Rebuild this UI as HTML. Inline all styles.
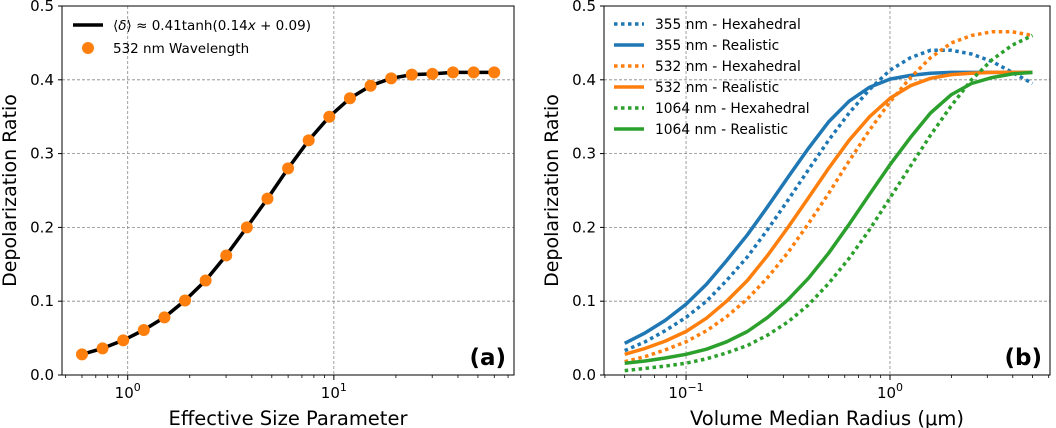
<!DOCTYPE html>
<html><head><meta charset="utf-8"><style>
body{margin:0;background:#fff;}
svg{display:block;font-family:"DejaVu Sans","Liberation Sans",sans-serif;}
</style></head><body>
<svg id="c" width="1056" height="428"></svg>
<script>
const aX=[0.6,0.755,0.951,1.197,1.507,1.897,2.388,3.006,3.784,4.764,5.997,7.550,9.505,11.97,15.07,18.97,23.88,30.06,37.84,47.64,59.97];
const aY=[0.028,0.036,0.047,0.061,0.078,0.101,0.128,0.162,0.2,0.239,0.28,0.318,0.35,0.375,0.392,0.402,0.407,0.408,0.41,0.41,0.41];
const bX=[0.05,0.063,0.079,0.1,0.126,0.158,0.2,0.251,0.316,0.398,0.5,0.63,0.794,1,1.26,1.58,2,2.51,3.16,3.98,5];
const b355Hex=[0.033,0.045,0.06,0.078,0.1,0.128,0.16,0.197,0.237,0.278,0.318,0.355,0.387,0.413,0.43,0.44,0.44,0.435,0.425,0.41,0.395];
const b355Real=[0.043,0.057,0.074,0.096,0.123,0.155,0.19,0.228,0.268,0.307,0.343,0.371,0.39,0.401,0.406,0.409,0.41,0.41,0.41,0.41,0.41];
const b532Hex=[0.018,0.025,0.034,0.045,0.06,0.079,0.103,0.132,0.166,0.205,0.246,0.29,0.332,0.37,0.403,0.43,0.45,0.46,0.465,0.465,0.46];
const b532Real=[0.028,0.036,0.046,0.059,0.077,0.1,0.128,0.162,0.2,0.24,0.28,0.318,0.35,0.375,0.392,0.402,0.407,0.409,0.41,0.41,0.41];
const b1064Hex=[0.006,0.009,0.012,0.016,0.022,0.03,0.04,0.054,0.072,0.095,0.124,0.158,0.197,0.24,0.283,0.325,0.365,0.4,0.427,0.447,0.46];
const b1064Real=[0.016,0.019,0.023,0.028,0.035,0.045,0.059,0.078,0.102,0.131,0.165,0.204,0.245,0.285,0.322,0.355,0.38,0.395,0.403,0.408,0.41];
const yTicks=["0.0","0.1","0.2","0.3","0.4","0.5"];

const svg=document.getElementById('c');const NS="http://www.w3.org/2000/svg";
function el(t,a,p){const e=document.createElementNS(NS,t);for(const k in a)e.setAttribute(k,a[k]);(p||svg).appendChild(e);return e;}
function panel(L,R,T,B,xmin,xmax,name){
  const g=el('g',{});
  
  
  const sx=v=>L+(Math.log10(v)-Math.log10(xmin))/(Math.log10(xmax)-Math.log10(xmin))*(R-L);
  const sy=v=>B-v/0.5*(B-T);
  return {g,sx,sy,L,R,T,B,xmin,xmax};
}
function axes(p,majors,majLbl,xlabel,ylabel,tag){
  const g=p.g;
  yTicks.forEach((t,i)=>{const v=parseFloat(t);const y=p.sy(v);
    if(v>0&&v<0.5){const l=el('line',{x1:p.L,x2:p.R,y1:y,y2:y,stroke:'#888','stroke-width':0.8,'stroke-dasharray':'3,2'},g);}
    el('line',{x1:p.L-4,x2:p.L,y1:y,y2:y,stroke:'#000','stroke-width':1},g);
    const tx=el('text',{x:p.L-8,y:y+5,'text-anchor':'end','font-size':15},g);tx.textContent=t;
    });
  majors.forEach((m,i)=>{const x=p.sx(m);
    const l=el('line',{x1:x,x2:x,y1:p.T,y2:p.B,stroke:'#888','stroke-width':0.8,'stroke-dasharray':'3,2'},g);
    
    el('line',{x1:x,x2:x,y1:p.B,y2:p.B+5,stroke:'#000','stroke-width':1},g);
    const t=el('text',{x:x,y:p.B+23,'text-anchor':'middle','font-size':15},g);
    t.innerHTML=majLbl[i];});
  for(let d=Math.floor(Math.log10(p.xmin));d<=Math.ceil(Math.log10(p.xmax));d++)for(let k=2;k<10;k++){const v=k*Math.pow(10,d);
    if(v>p.xmin&&v<p.xmax){const x=p.sx(v);el('line',{x1:x,x2:x,y1:p.B,y2:p.B+3,stroke:'#000','stroke-width':0.8},g);}}
  const f=el('rect',{x:p.L,y:p.T,width:p.R-p.L,height:p.B-p.T,fill:'none',stroke:'#000','stroke-width':1},g);
  
  const xl=el('text',{x:(p.L+p.R)/2,y:p.B+50,'text-anchor':'middle','font-size':19.5},g);xl.textContent=xlabel;
  
  const yl=el('text',{x:0,y:0,'text-anchor':'middle','font-size':19,transform:`translate(${p.L-46},${(p.T+p.B)/2}) rotate(-90)`},g);yl.textContent=ylabel;
  
  const tg=el('text',{x:p.R-8,y:p.B-10,'text-anchor':'end','font-size':23,'font-weight':'bold'},g);tg.textContent=tag;
  
}
function line(p,xs,ys,color,dash,name){
  const d=xs.map((x,i)=>(i?'L':'M')+p.sx(x).toFixed(1)+','+p.sy(ys[i]).toFixed(1)).join('');
  const a={d:d,fill:'none',stroke:color,'stroke-width':3.5,'stroke-linejoin':'round'};
  if(dash)a['stroke-dasharray']=dash;
  const l=el('path',a,p.g);
  
  
}
const pa=panel(62,514,6,375,0.48,74.8,'panel-a');
axes(pa,[1,10],['10<tspan dy="-7" font-size="11">0</tspan>','10<tspan dy="-7" font-size="11">1</tspan>'],'Effective Size Parameter','Depolarization Ratio','(a)');
line(pa,aX,aY,'#000',null,'fit-curve');
aX.forEach((x,i)=>{const c=el('circle',{cx:pa.sx(x),cy:pa.sy(aY[i]),r:6,fill:'#ff7f0e'},pa.g);
  });
const la=el('g',{});


el('line',{x1:73,x2:103,y1:25,y2:25,stroke:'#000','stroke-width':3.5},la);
const t1=el('text',{x:113,y:30,'font-size':13.5},la);t1.innerHTML='⟨<tspan font-style="italic">δ</tspan>⟩ ≈ 0.41tanh(0.14<tspan font-style="italic">x</tspan> + 0.09)';
el('circle',{cx:88,cy:48,r:6,fill:'#ff7f0e'},la);
const t2=el('text',{x:113,y:53,'font-size':13.5},la);t2.textContent='532 nm Wavelength';
const pb=panel(604,1050,6,375,0.0396,6.09,'panel-b');
axes(pb,[0.1,1],['10<tspan dy="-7" font-size="11">−1</tspan>','10<tspan dy="-7" font-size="11">0</tspan>'],'Volume Median Radius (μm)','Depolarization Ratio','(b)');
const series=[[b355Hex,'#1f77b4','3.5,3.5','355 nm - Hexahedral'],[b355Real,'#1f77b4',null,'355 nm - Realistic'],
[b532Hex,'#ff7f0e','3.5,3.5','532 nm - Hexahedral'],[b532Real,'#ff7f0e',null,'532 nm - Realistic'],
[b1064Hex,'#2ca02c','3.5,3.5','1064 nm - Hexahedral'],[b1064Real,'#2ca02c',null,'1064 nm - Realistic']];
const lb=el('g',{});


series.forEach((s,i)=>{line(pb,bX,s[0],s[1],s[2],'series-'+s[3].replace(/[^a-z0-9]+/gi,'-').toLowerCase());
  const y=24+i*21;const a={x1:614,x2:644,y1:y,y2:y,stroke:s[1],'stroke-width':3.5};if(s[2])a['stroke-dasharray']=s[2];
  el('line',a,lb);const t=el('text',{x:655,y:y+5,'font-size':13.8},lb);t.textContent=s[3];
  });
</script>
</body></html>
